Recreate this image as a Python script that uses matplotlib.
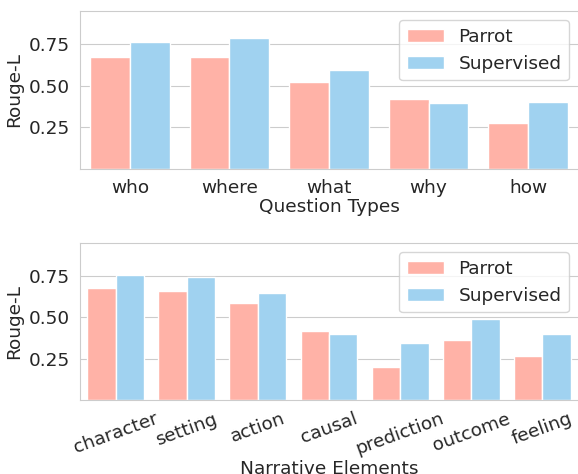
import matplotlib
matplotlib.use("Agg")
import matplotlib.pyplot as plt
import numpy as np
import seaborn as sns

question_types = ["who", "where", "what", "why", "how"]
question_parrot = [0.672, 0.676, 0.522, 0.420, 0.274]
question_supervised = [0.762, 0.786, 0.598, 0.399, 0.401]

narrative_elements = ["character", "setting", "action", "causal",
                      "prediction", "outcome", "feeling"]
narrative_parrot = [0.678, 0.658, 0.589, 0.419, 0.200, 0.365, 0.268]
narrative_supervised = [0.756, 0.742, 0.648, 0.401, 0.342, 0.489, 0.401]

series_names = ["Parrot", "Supervised"]
colors = ["#ffb2a7", "#a0d2f0"]

sns.set_style("whitegrid")
plt.rcParams['font.family'] = ['DejaVu Sans']
FS = 13.3


def draw(ax, cats, parrot, supervised, xlabel, rotation=0):
    x = np.arange(len(cats))
    w = 0.4
    for k, (vals, name, col) in enumerate(zip([parrot, supervised], series_names, colors)):
        ax.bar(x + (k - 0.5) * w, vals, width=w, color=col, edgecolor="white",
               linewidth=1, label=name, zorder=2)
    ax.set_xlim(-0.5, len(cats) - 0.5)
    ax.set_ylim(0, 0.95)
    ax.set_yticks([0.25, 0.50, 0.75])
    ax.set_xticks(x)
    ax.set_xticklabels(cats, rotation=rotation, fontsize=FS)
    ax.tick_params(axis="y", labelsize=FS)
    ax.grid(axis="x", visible=False)
    # right spine falls on the cropped image edge in the original
    ax.spines["right"].set_visible(False)
    ax.set_ylabel("Rouge-L", fontsize=FS)
    ax.set_xlabel(xlabel, fontsize=FS, labelpad=1)
    ax.legend(loc="upper right", fontsize=FS)


fig = plt.figure(figsize=(5.78, 4.74), dpi=100)
ax1 = fig.add_axes([80 / 578, 1 - 169 / 474, 498 / 578, 158 / 474])
ax2 = fig.add_axes([80 / 578, 1 - 400 / 474, 498 / 578, 157 / 474])

draw(ax1, question_types, question_parrot, question_supervised, "Question Types")
draw(ax2, narrative_elements, narrative_parrot, narrative_supervised,
     "Narrative Elements", rotation=20)

fig.savefig("out.png", dpi=100)
